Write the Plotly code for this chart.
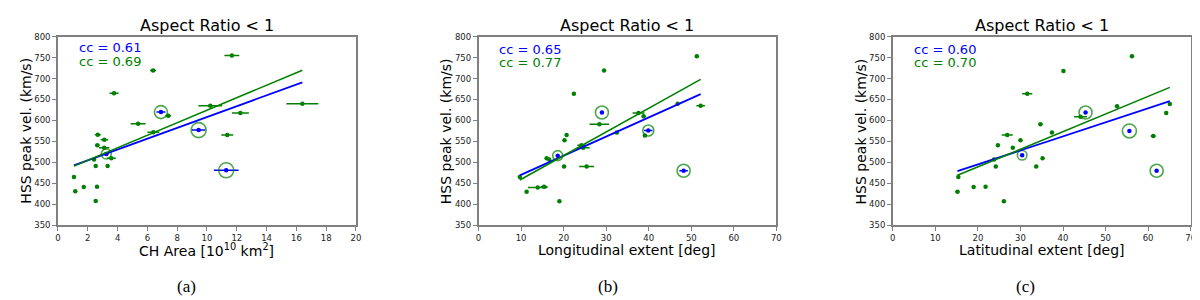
import plotly.graph_objects as go

# ---------------- data ----------------
# Panel (a): CH Area [10^10 km^2]
a_x = [11.67, 6.38, 3.76, 7.4, 10.22, 16.4, 12.24, 5.38, 6.4, 11.36, 2.67, 3.11, 2.64, 3.1, 3.58,
       2.42, 2.53, 3.33, 1.07, 1.73, 2.62, 1.16, 2.53]
a_xerr = [0.5, 0.2, 0.3, 0.2, 0.8, 1.07, 0.57, 0.5, 0.4, 0.4, 0.2, 0.25, 0.15, 0.35, 0.3,
          0.1, 0.1, 0.1, 0.05, 0.1, 0.1, 0.05, 0.1]
a_v = [755, 719, 665, 611, 635, 640, 618, 592, 572, 565, 566, 554, 541, 535, 510,
       507, 491, 491, 465, 441, 442, 431, 408]
a_bx = [3.24, 6.91, 9.44, 11.29]
a_bxerr = [0.15, 0.3, 0.45, 0.83]
a_bv = [520, 620, 577, 481]
a_fit_x = [1.07, 16.4]
a_fit_blue = [493, 691]
a_fit_green = [491, 720]
a_cc = ["0.61", "0.69"]

# Panel (b): Longitudinal extent [deg]
b_x = [51.3, 29.5, 22.4, 37.6, 38.8, 46.8, 52.2, 28.4, 39.1, 32.5, 20.7, 20.2, 24.2, 24.6, 16.0,
       16.6, 20.1, 25.4, 9.7, 13.9, 15.4, 11.3, 19.0]
b_xerr = [0.2, 0.2, 0.4, 1.4, 0.2, 0.2, 1.0, 2.3, 0.2, 0.3, 0.2, 0.2, 1.0, 1.5, 0.2,
          0.3, 0.2, 1.75, 0.2, 2.3, 0.8, 0.2, 0.3]
b_v = [753, 719, 664, 618, 610, 640, 635, 591, 564, 571, 565, 553, 541, 535, 510,
       507, 490, 490, 465, 440, 442, 430, 407]
b_bx = [18.6, 29.0, 39.9, 48.2]
b_bxerr = [0.4, 0.2, 1.0, 1.0]
b_bv = [516, 619, 576, 480]
b_fit_x = [9.7, 52.2]
b_fit_blue = [469, 663]
b_fit_green = [458, 698]
b_cc = ["0.65", "0.77"]

# Panel (c): Latitudinal extent [deg]
c_x = [56.2, 40.1, 31.6, 44.1, 52.7, 34.7, 37.4, 61.2, 26.9, 30.0, 24.7, 28.2, 35.2, 23.8, 24.2,
       33.7, 15.4, 15.2, 19.0, 21.8, 26.1, 64.25, 65.1]
c_xerr = [0.2, 0.2, 1.2, 1.5, 0.2, 0.5, 0.2, 0.6, 1.3, 0.2, 0.2, 0.2, 0.2, 0.2, 0.2,
          0.2, 0.2, 0.5, 0.2, 0.2, 0.2, 0.2, 0.2]
c_v = [753, 718, 664, 609, 634, 591, 571, 563, 565, 553, 541, 535, 510, 507, 490,
       490, 465, 430, 441, 442, 407, 618, 639]
c_bx = [30.4, 45.3, 55.6, 62.0]
c_bxerr = [0.2, 0.2, 0.2, 0.2]
c_bv = [517, 619, 575, 480]
c_fit_x = [15.2, 65.1]
c_fit_blue = [479, 646]
c_fit_green = [469, 679]
c_cc = ["0.60", "0.70"]

titles = ["Aspect Ratio < 1", "Aspect Ratio < 1", "Aspect Ratio < 1"]
x_titles = ["CH Area [10<sup>10</sup> km<sup>2</sup>]", "Longitudinal extent [deg]", "Latitudinal extent [deg]"]
y_title = "HSS peak vel. (km/s)"
panel_labels = ["(a)", "(b)", "(c)"]
x_ranges = [[0, 20], [0, 70], [0, 70]]
x_dticks = [2, 10, 10]
y_range = [350, 800]

# ---------------- styles ----------------
GREEN = "#008000"
BLUE = "#0000ff"
FRAME = "#808080"
W, H = 1200, 300
x_domains = [[47.3 / W, 347.3 / W], [470.7 / W, 770.5 / W], [887.7 / W, 1187.6 / W]]
y_domain = [1 - 219.5 / H, 1 - 24.5 / H]
ring_sizes = [[10, 13, 15, 15], [10, 13, 11, 13], [9.5, 13, 14, 13]]
label_x_px = [177, 601, 1021]
cc_y_px = [[36, 50], [38, 51.5], [38, 51.5]]

panels = [
    (a_x, a_xerr, a_v, a_bx, a_bxerr, a_bv, a_fit_x, a_fit_blue, a_fit_green, a_cc),
    (b_x, b_xerr, b_v, b_bx, b_bxerr, b_bv, b_fit_x, b_fit_blue, b_fit_green, b_cc),
    (c_x, c_xerr, c_v, c_bx, c_bxerr, c_bv, c_fit_x, c_fit_blue, c_fit_green, c_cc),
]

fig = go.Figure()
annotations = []
layout_axes = {}

for i, (gx, gxe, gv, bx, bxe, bv, fx, fb, fg, cc) in enumerate(panels):
    n = "" if i == 0 else str(i + 1)
    xa, ya = "x" + n, "y" + n
    # green points with horizontal error bars
    fig.add_trace(go.Scatter(
        x=gx, y=gv, mode="markers", xaxis=xa, yaxis=ya,
        marker=dict(color=GREEN, size=4.5),
        error_x=dict(type="data", array=gxe, visible=True, color=GREEN, thickness=1.5, width=0),
        showlegend=False, hoverinfo="skip"))
    # blue points with error bars
    fig.add_trace(go.Scatter(
        x=bx, y=bv, mode="markers", xaxis=xa, yaxis=ya,
        marker=dict(color=BLUE, size=4.5),
        error_x=dict(type="data", array=bxe, visible=True, color=BLUE, thickness=1.5, width=0),
        showlegend=False, hoverinfo="skip"))
    # green rings around blue points
    fig.add_trace(go.Scatter(
        x=bx, y=bv, mode="markers", xaxis=xa, yaxis=ya,
        marker=dict(symbol="circle-open", color=GREEN, size=ring_sizes[i], line=dict(width=1.6)),
        showlegend=False, hoverinfo="skip"))
    # fit lines
    fig.add_trace(go.Scatter(
        x=fx, y=fb, mode="lines", xaxis=xa, yaxis=ya,
        line=dict(color=BLUE, width=1.8), showlegend=False, hoverinfo="skip"))
    fig.add_trace(go.Scatter(
        x=fx, y=fg, mode="lines", xaxis=xa, yaxis=ya,
        line=dict(color=GREEN, width=1.6), showlegend=False, hoverinfo="skip"))

    axis_common = dict(showline=True, mirror=True, linecolor=FRAME, linewidth=1.5,
                       ticks="outside", ticklen=4, tickwidth=1, tickcolor=FRAME,
                       showgrid=False, zeroline=False,
                       tickfont=dict(family="DejaVu Sans", size=8.5, color="#222"))
    layout_axes["xaxis" + n] = dict(axis_common, domain=x_domains[i], range=x_ranges[i],
                                    dtick=x_dticks[i], tick0=0, anchor=ya)
    layout_axes["yaxis" + n] = dict(axis_common, domain=y_domain, range=y_range,
                                    dtick=50, tick0=350, anchor=xa)

    x0, x1 = x_domains[i]
    xc = (x0 + x1) / 2
    annotations.append(dict(text=titles[i], x=xc, y=1 - 12.5 / H, xref="paper", yref="paper",
                            showarrow=False, xanchor="center", yanchor="middle",
                            font=dict(family="DejaVu Sans", size=16, color="black")))
    annotations.append(dict(text=x_titles[i], x=xc, y=1 - 245 / H, xref="paper", yref="paper",
                            showarrow=False, xanchor="center", yanchor="middle",
                            font=dict(family="DejaVu Sans", size=14, color="black")))
    annotations.append(dict(text=y_title, x=x0 - 32.5 / W, y=(y_domain[0] + y_domain[1]) / 2,
                            xref="paper", yref="paper", textangle=-90,
                            showarrow=False, xanchor="center", yanchor="middle",
                            font=dict(family="DejaVu Sans", size=14, color="black")))
    for j, (col, val) in enumerate(zip([BLUE, GREEN], cc)):
        annotations.append(dict(text="cc = " + val, x=x0 + 20 / W, y=1 - cc_y_px[i][j] / H,
                                xref="paper", yref="paper", showarrow=False,
                                xanchor="left", yanchor="middle", height=13, borderpad=0,
                                font=dict(family="DejaVu Sans", size=13, color=col)))
    annotations.append(dict(text=panel_labels[i], x=label_x_px[i] / W, y=1 - 283 / H,
                            xref="paper", yref="paper", showarrow=False,
                            xanchor="center", yanchor="middle",
                            font=dict(family="Liberation Serif", size=17, color="black")))

fig.update_layout(
    width=W, height=H, margin=dict(l=0, r=0, t=0, b=0),
    paper_bgcolor="white", plot_bgcolor="white",
    annotations=annotations, **layout_axes)

fig.write_html("out.html")
